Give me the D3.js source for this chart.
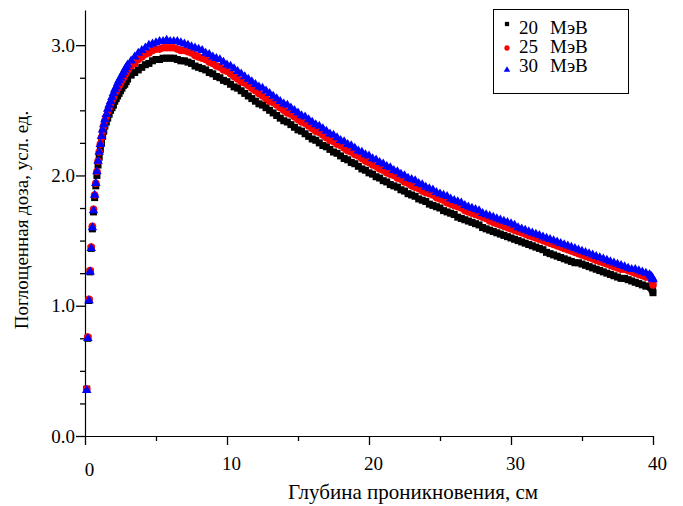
<!DOCTYPE html>
<html>
<head>
<meta charset="utf-8">
<script src="https://cdn.jsdelivr.net/npm/d3@7"></script>
<style>
  body { margin: 0; background: #fff; }
  svg { display: block; font-family: "Liberation Serif", "Times New Roman", serif; }
</style>
</head>
<body>
<div id="chart"></div>
<script>
// depth, cm
var depth = [
  0.12, 0.2, 0.28, 0.36, 0.44, 0.52, 0.6, 0.68, 0.76, 0.84, 0.92, 1.0, 1.08, 1.16, 1.24, 1.32,
  1.4, 1.5, 1.6, 1.7, 1.8, 1.9, 2.0, 2.1, 2.2, 2.3, 2.4, 2.5, 2.6, 2.7, 2.8, 2.9, 3.0,
  3.25, 3.5, 3.75,
  4, 4.25, 4.5, 4.75, 5, 5.25, 5.5, 5.75, 6, 6.25, 6.5, 6.75, 7, 7.25, 7.5, 7.75,
  8, 8.25, 8.5, 8.75, 9, 9.25, 9.5, 9.75, 10, 10.25, 10.5, 10.75, 11, 11.25, 11.5, 11.75,
  12, 12.25, 12.5, 12.75, 13, 13.25, 13.5, 13.75, 14, 14.25, 14.5, 14.75, 15, 15.25, 15.5, 15.75,
  16, 16.25, 16.5, 16.75, 17, 17.25, 17.5, 17.75, 18, 18.25, 18.5, 18.75, 19, 19.25, 19.5, 19.75,
  20, 20.25, 20.5, 20.75, 21, 21.25, 21.5, 21.75, 22, 22.25, 22.5, 22.75, 23, 23.25, 23.5, 23.75,
  24, 24.25, 24.5, 24.75, 25, 25.25, 25.5, 25.75, 26, 26.25, 26.5, 26.75, 27, 27.25, 27.5, 27.75,
  28, 28.25, 28.5, 28.75, 29, 29.25, 29.5, 29.75, 30, 30.25, 30.5, 30.75, 31, 31.25, 31.5, 31.75,
  32, 32.25, 32.5, 32.75, 33, 33.25, 33.5, 33.75, 34, 34.25, 34.5, 34.75, 35, 35.25, 35.5, 35.75,
  36, 36.25, 36.5, 36.75, 37, 37.25, 37.5, 37.75, 38, 38.25, 38.5, 38.75, 39, 39.25, 39.5, 39.75,
  39.85, 39.92, 39.97, 40
];

// 20 MeV (black squares)
var dose20 = [
  0.36, 0.75, 1.04, 1.26, 1.44, 1.59, 1.72, 1.83, 1.92, 2.00, 2.08, 2.14, 2.20, 2.25, 2.30, 2.34,
  2.38, 2.41, 2.44, 2.47, 2.50, 2.52, 2.54, 2.57, 2.59, 2.61, 2.63, 2.65, 2.67, 2.69, 2.70, 2.72, 2.74,
  2.77, 2.79, 2.81,
  2.83, 2.85, 2.86, 2.88, 2.89, 2.89, 2.90, 2.90, 2.90, 2.90, 2.89, 2.88, 2.88, 2.87, 2.86, 2.84,
  2.83, 2.82, 2.81, 2.79, 2.78, 2.76, 2.75, 2.73, 2.72, 2.70, 2.68, 2.67, 2.65, 2.63, 2.61, 2.59,
  2.57, 2.55, 2.54, 2.52, 2.50, 2.48, 2.46, 2.44, 2.42, 2.41, 2.39, 2.37, 2.35, 2.34, 2.32, 2.30,
  2.28, 2.27, 2.25, 2.23, 2.22, 2.20, 2.18, 2.17, 2.15, 2.13, 2.12, 2.10, 2.09, 2.07, 2.05, 2.04,
  2.02, 2.01, 1.99, 1.98, 1.96, 1.95, 1.93, 1.92, 1.91, 1.89, 1.88, 1.86, 1.85, 1.84, 1.82, 1.81,
  1.80, 1.78, 1.77, 1.76, 1.75, 1.73, 1.72, 1.71, 1.70, 1.68, 1.67, 1.66, 1.65, 1.64, 1.63, 1.62,
  1.60, 1.59, 1.58, 1.57, 1.56, 1.55, 1.54, 1.53, 1.52, 1.51, 1.50, 1.49, 1.48, 1.47, 1.46, 1.45,
  1.44, 1.43, 1.41, 1.40, 1.39, 1.38, 1.37, 1.36, 1.35, 1.34, 1.33, 1.33, 1.32, 1.31, 1.30, 1.29,
  1.28, 1.27, 1.26, 1.25, 1.24, 1.23, 1.22, 1.21, 1.21, 1.20, 1.19, 1.18, 1.17, 1.16, 1.15, 1.15,
  1.14, 1.13, 1.12, 1.10
];

// 25 MeV (red circles)
var dose25 = [
  0.36, 0.76, 1.05, 1.27, 1.45, 1.61, 1.74, 1.85, 1.94, 2.03, 2.11, 2.18, 2.24, 2.29, 2.34, 2.38,
  2.42, 2.45, 2.49, 2.52, 2.55, 2.58, 2.60, 2.63, 2.65, 2.67, 2.69, 2.71, 2.73, 2.75, 2.77, 2.79, 2.81,
  2.84, 2.86, 2.89,
  2.91, 2.93, 2.94, 2.96, 2.97, 2.97, 2.98, 2.98, 2.98, 2.98, 2.97, 2.96, 2.96, 2.95, 2.94, 2.92,
  2.91, 2.90, 2.89, 2.87, 2.86, 2.84, 2.83, 2.81, 2.80, 2.78, 2.76, 2.74, 2.72, 2.71, 2.69, 2.67,
  2.65, 2.63, 2.61, 2.59, 2.57, 2.56, 2.54, 2.52, 2.50, 2.48, 2.47, 2.45, 2.43, 2.41, 2.40, 2.38,
  2.36, 2.34, 2.33, 2.31, 2.29, 2.27, 2.26, 2.24, 2.23, 2.21, 2.19, 2.18, 2.16, 2.15, 2.13, 2.11,
  2.10, 2.08, 2.07, 2.05, 2.04, 2.02, 2.01, 2.00, 1.98, 1.97, 1.95, 1.94, 1.92, 1.91, 1.90, 1.88,
  1.87, 1.86, 1.85, 1.83, 1.82, 1.81, 1.79, 1.78, 1.77, 1.76, 1.75, 1.73, 1.72, 1.71, 1.70, 1.69,
  1.68, 1.67, 1.65, 1.64, 1.63, 1.62, 1.61, 1.60, 1.59, 1.58, 1.57, 1.56, 1.55, 1.54, 1.53, 1.52,
  1.51, 1.50, 1.49, 1.48, 1.47, 1.46, 1.45, 1.44, 1.43, 1.42, 1.41, 1.40, 1.39, 1.38, 1.37, 1.36,
  1.35, 1.34, 1.33, 1.32, 1.31, 1.30, 1.29, 1.28, 1.28, 1.27, 1.26, 1.25, 1.24, 1.23, 1.22, 1.22,
  1.21, 1.20, 1.18, 1.16
];

// 30 MeV (blue triangles)
var dose30 = [
  0.36, 0.76, 1.05, 1.27, 1.45, 1.61, 1.74, 1.86, 1.95, 2.04, 2.12, 2.19, 2.25, 2.31, 2.36, 2.40,
  2.44, 2.48, 2.52, 2.55, 2.58, 2.61, 2.64, 2.67, 2.69, 2.72, 2.74, 2.76, 2.78, 2.80, 2.82, 2.84, 2.86,
  2.89, 2.92, 2.95,
  2.97, 2.99, 3.01, 3.02, 3.03, 3.04, 3.04, 3.05, 3.04, 3.04, 3.04, 3.03, 3.02, 3.01, 3.00, 2.99,
  2.98, 2.97, 2.95, 2.94, 2.92, 2.91, 2.90, 2.88, 2.86, 2.85, 2.83, 2.81, 2.79, 2.77, 2.75, 2.73,
  2.71, 2.69, 2.68, 2.66, 2.64, 2.62, 2.60, 2.58, 2.56, 2.55, 2.53, 2.51, 2.49, 2.47, 2.46, 2.44,
  2.42, 2.40, 2.39, 2.37, 2.35, 2.33, 2.32, 2.30, 2.28, 2.27, 2.25, 2.24, 2.22, 2.20, 2.19, 2.17,
  2.16, 2.14, 2.13, 2.11, 2.10, 2.08, 2.07, 2.05, 2.04, 2.02, 2.01, 1.99, 1.98, 1.97, 1.95, 1.94,
  1.92, 1.91, 1.90, 1.88, 1.87, 1.86, 1.85, 1.83, 1.82, 1.81, 1.80, 1.78, 1.77, 1.76, 1.75, 1.74,
  1.72, 1.71, 1.70, 1.69, 1.68, 1.67, 1.66, 1.65, 1.64, 1.63, 1.61, 1.60, 1.59, 1.58, 1.57, 1.56,
  1.55, 1.54, 1.53, 1.52, 1.51, 1.50, 1.49, 1.48, 1.47, 1.46, 1.45, 1.44, 1.43, 1.42, 1.41, 1.40,
  1.39, 1.38, 1.37, 1.36, 1.35, 1.34, 1.33, 1.32, 1.31, 1.30, 1.29, 1.29, 1.28, 1.27, 1.26, 1.25,
  1.24, 1.23, 1.22, 1.21
];

var seriesNames = ["20", "25", "30"];
var unit = "МэВ";
var xTicks = [0, 10, 20, 30, 40];
var xMinor = [5, 15, 25, 35];
var yTicks = [0, 1, 2, 3];
var yMinor = [0.25, 0.5, 0.75, 1.25, 1.5, 1.75, 2.25, 2.5, 2.75];

var width = 683, height = 506;

var svg = d3.select("#chart")
  .append("svg")
    .attr("width", width)
    .attr("height", height);

var x = d3.scaleLinear().domain([0, 40]).range([85, 653]);
var y = d3.scaleLinear().domain([0, 3.27]).range([436, 10]);

// axes
var xAxis = svg.append("g")
  .attr("transform", "translate(0,436)")
  .call(d3.axisBottom(x).tickValues(xTicks).tickSize(9).tickSizeOuter(0).tickPadding(12));
svg.append("g")
  .attr("transform", "translate(0,436)")
  .call(d3.axisBottom(x).tickValues(xMinor).tickSize(5).tickSizeOuter(0).tickFormat(""))
  .select(".domain").remove();

var yAxis = svg.append("g")
  .attr("transform", "translate(85,0)")
  .call(d3.axisLeft(y).tickValues(yTicks).tickSize(9).tickSizeOuter(0).tickPadding(1)
    .tickFormat(d3.format(".1f")));
svg.append("g")
  .attr("transform", "translate(85,0)")
  .call(d3.axisLeft(y).tickValues(yMinor).tickSize(5).tickSizeOuter(0).tickFormat(""))
  .select(".domain").remove();

svg.selectAll(".domain").attr("stroke", "#000").attr("stroke-width", 1.2);
svg.selectAll(".tick line").attr("stroke", "#000").attr("stroke-width", 1.3);
svg.selectAll(".tick text")
  .attr("fill", "#000")
  .attr("font-family", null)
  .style("font-family", "Liberation Serif")
  .style("font-size", "19px");
xAxis.selectAll(".tick text").attr("dx", 4);
xAxis.selectAll(".tick text").filter(function(d) { return d === 0; }).attr("dy", "1.0em");

// axis titles
svg.append("text")
  .attr("x", 413)
  .attr("y", 499)
  .attr("text-anchor", "middle")
  .style("font-size", "21px")
  .text("Глубина проникновения, см");

svg.append("text")
  .attr("transform", "translate(28,220) rotate(-90)")
  .attr("text-anchor", "middle")
  .style("font-size", "19px")
  .text("Поглощенная доза, усл. ед.");

// triangle centred on its bounding box
var triangleBox = {
  draw: function(ctx, size) {
    var s = Math.sqrt(size);
    ctx.moveTo(0, -s / 2);
    ctx.lineTo(s * 0.6, s / 2);
    ctx.lineTo(-s * 0.6, s / 2);
    ctx.closePath();
  }
};

// series
var series = [
  {values: dose20, color: "#000000", type: d3.symbolSquare, size: 49, legendSize: 18},
  {values: dose25, color: "#ff0000", type: d3.symbolCircle, size: 46, legendSize: 22},
  {values: dose30, color: "#0000ff", type: triangleBox, size: 64, legendSize: 30}
];

series.forEach(function(s) {
  var pts = depth.map(function(d, i) { return {x: d, y: s.values[i]}; });
  svg.append("g")
    .selectAll("path")
    .data(pts)
    .enter()
    .append("path")
      .attr("transform", function(d) { return "translate(" + x(d.x) + "," + y(d.y) + ")"; })
      .attr("d", d3.symbol().type(s.type).size(s.size))
      .attr("fill", s.color);
});

// legend
var legend = svg.append("g");
legend.append("rect")
  .attr("x", 493.5)
  .attr("y", 9.5)
  .attr("width", 135)
  .attr("height", 84)
  .attr("fill", "#fff")
  .attr("stroke", "#000")
  .attr("stroke-width", 1);

var legendRows = [34, 53, 72];
var markerY = [24, 48, 69];
series.forEach(function(s, i) {
  legend.append("path")
    .attr("transform", "translate(507," + markerY[i] + ")")
    .attr("d", d3.symbol().type(s.type).size(s.legendSize))
    .attr("fill", s.color);
  var t = legend.append("text")
    .attr("x", 519)
    .attr("y", legendRows[i])
    .style("font-size", "19px");
  t.append("tspan").text(seriesNames[i]);
  t.append("tspan").attr("x", 550).text(unit);
});
</script>
</body>
</html>
